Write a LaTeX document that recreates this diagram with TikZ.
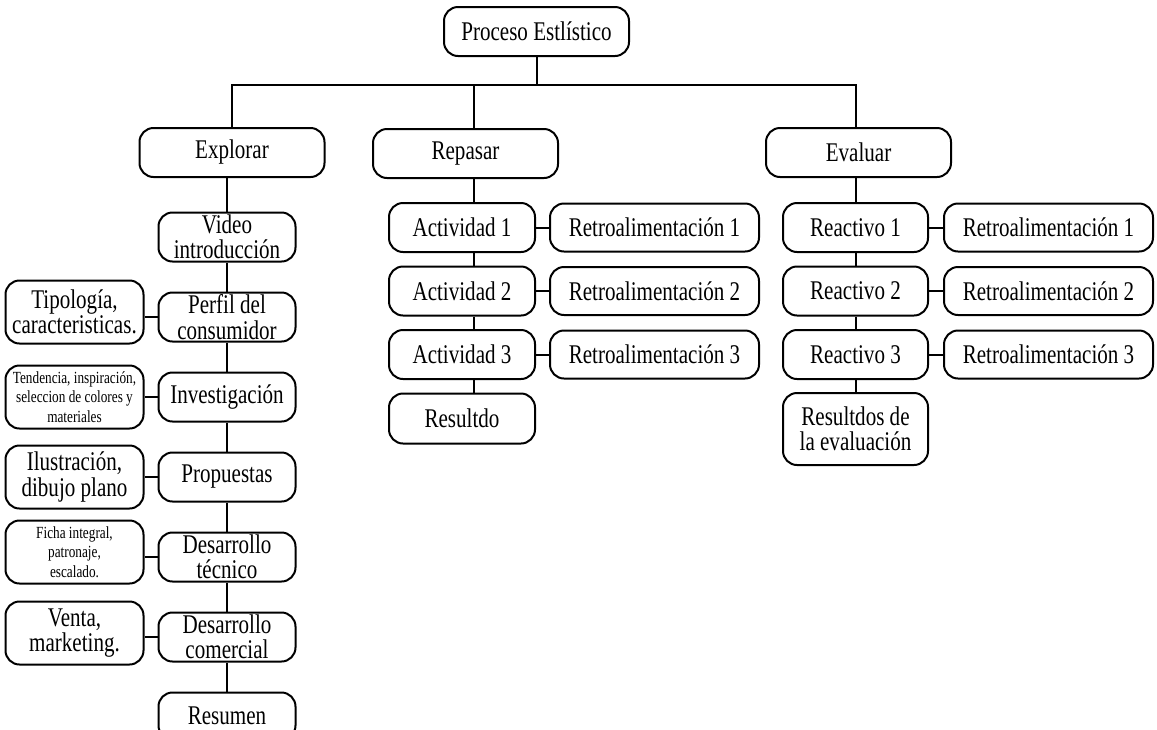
\documentclass[tikz,border=0pt]{standalone}
\usepackage{fontspec}
\setmainfont[FakeStretch=0.78]{Liberation Serif}
\usepackage{tikz}
\usetikzlibrary{positioning}
\newcommand{\mainsize}{\fontsize{27}{25.5}\selectfont}
\newcommand{\notesize}{\fontsize{17}{19.5}\selectfont}

\begin{document}
\begin{tikzpicture}[
  x=1pt, y=-1pt,
  node distance=29pt and 13pt,
  box/.style={draw, line width=2pt, rounded corners=14pt, fill=white, align=center, inner sep=0pt, font=\mainsize},
  head/.style={box, minimum width=185pt, minimum height=49pt},
  item/.style={box, minimum width=137pt, minimum height=49pt},
  side/.style={box, minimum width=138pt, minimum height=63pt},
  act/.style={box, minimum width=146pt, minimum height=49pt},
  retro/.style={box, minimum width=209pt, minimum height=48pt},
  note/.style={side, font=\notesize},
  link/.style={line width=2pt}
]
  \useasboundingbox (0,0) rectangle (1157,729);

  % heads
  \node[head] (root) at (536.5,31.5) {Proceso Estlístico};
  \node[head] (explorar) at (232,152.5) {Explorar};
  \node[head] (repasar) at (465.5,153.5) {Repasar};
  \node[head] (evaluar) at (858.5,152.5) {Evaluar};

  % explorar column
  \node[item] (video) at (227,237) {Video\\introducción};
  \node[item, below=of video] (perfil) {Perfil del\\consumidor};
  \node[item, below=of perfil] (invest) {Investigación};
  \node[item, below=of invest] (prop) {Propuestas};
  \node[item, below=of prop] (tecnico) {Desarrollo\\técnico};
  \node[item, below=of tecnico] (comercial) {Desarrollo\\comercial};
  \node[item, below=of comercial, minimum height=47pt] (resumen) {Resumen};

  \node[side, left=of perfil, yshift=5pt] (tipo) {Tipología,\\caracteristicas.};
  \node[note, left=of invest] (tend) {Tendencia, inspiración,\\seleccion de colores y\\materiales};
  \node[side, left=of prop] (ilus) {Ilustración,\\dibujo plano};
  \node[note, left=of tecnico, yshift=5pt] (ficha) {Ficha integral,\\patronaje,\\escalado.};
  \node[side, left=of comercial, yshift=4pt] (venta) {Venta,\\marketing.};

  % repasar column
  \node[act] (act1) at (462,227.5) {Actividad 1};
  \node[act, below=12.5pt of act1] (act2) {Actividad 2};
  \node[act, below=12.5pt of act2] (act3) {Actividad 3};
  \node[act, below=12.5pt of act3, minimum height=50pt] (resultdo) {Resultdo};
  \node[retro, right=of act1] (ra1) {Retroalimentación 1};
  \node[retro, right=of act2] (ra2) {Retroalimentación 2};
  \node[retro, right=of act3] (ra3) {Retroalimentación 3};

  % evaluar column
  \node[act, minimum width=145pt] (re1) at (855.5,227.5) {Reactivo 1};
  \node[act, minimum width=145pt, below=12.5pt of re1] (re2) {Reactivo 2};
  \node[act, minimum width=145pt, below=12.5pt of re2] (re3) {Reactivo 3};
  \node[act, minimum width=145pt, minimum height=72pt, below=12pt of re3] (resdos) {Resultdos de\\la evaluación};
  \node[retro, right=14pt of re1] (rb1) {Retroalimentación 1};
  \node[retro, right=14pt of re2] (rb2) {Retroalimentación 2};
  \node[retro, right=14pt of re3] (rb3) {Retroalimentación 3};

  % connectors
  \coordinate (bus) at (0,85);
  \coordinate (rtrunk) at (474,85);
  \draw[link] (root.south) -- (root.south |- bus);
  \draw[link] (explorar.north) -- (explorar.north |- bus) -- (re1.north |- bus) -- (evaluar.north -| re1);
  \draw[link] (rtrunk) -- (repasar.north -| rtrunk);

  \draw[link] (explorar.south -| video) -- (video);
  \foreach \a/\b in {video/perfil, perfil/invest, invest/prop, prop/tecnico, tecnico/comercial, comercial/resumen}
    \draw[link] (\a) -- (\b);
  \foreach \l/\r in {tipo/perfil, tend/invest, ilus/prop, ficha/tecnico, venta/comercial}
    \draw[link] (\r.west) -- (\r.west -| \l.east);

  \draw[link] (repasar.south -| rtrunk) -- (act1.north -| rtrunk);
  \foreach \a/\b in {act1/act2, act2/act3, act3/resultdo}
    \draw[link] (\a.south -| rtrunk) -- (\b.north -| rtrunk);
  \foreach \a/\b in {act1/ra1, act2/ra2, act3/ra3}
    \draw[link] (\a) -- (\b);

  \draw[link] (evaluar.south -| re1) -- (re1);
  \foreach \a/\b in {re1/re2, re2/re3, re3/resdos, re1/rb1, re2/rb2, re3/rb3}
    \draw[link] (\a) -- (\b);
\end{tikzpicture}
\end{document}
